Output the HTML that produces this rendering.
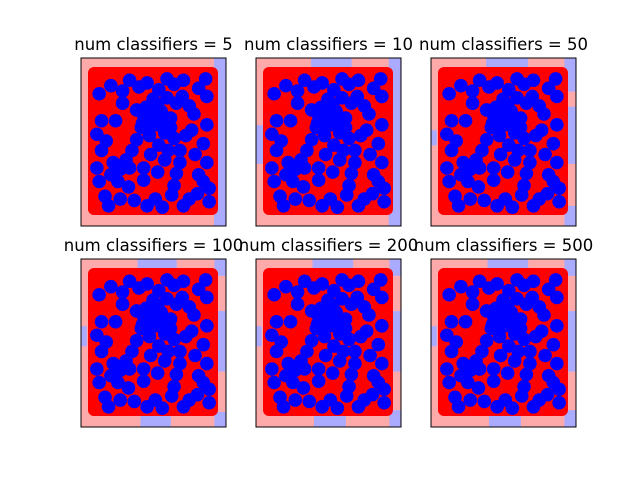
<!DOCTYPE html>
<html><head><meta charset="utf-8"><style>
body{margin:0;background:#fff;width:640px;height:480px;overflow:hidden}
svg{display:block;font-family:"DejaVu Sans","Liberation Sans",sans-serif}
</style></head><body>
<svg id="fig" width="640" height="480"></svg>
<script>
const titles = ["num classifiers = 5","num classifiers = 10","num classifiers = 50","num classifiers = 100","num classifiers = 200","num classifiers = 500"];
const blueX = [.14,.24,.45,.55,.68,.75,.95,.89,.50,.36,.42,.50,.57,.65,.41,.52,.60,.68,.55,.47,.36,.73,.63,.83,.96,.93,.78,.32,.16,.22,.14,.29,.42,.54,.42,.73,.70,.89,.96,.24,.04,.09,.22,.34,.52,.81,.88,.68,.06,.06,.18,.81,.96,.27,.60,.93,.04,.46,.57,.65,.50,.44,.30,.38,.62,.70,.85,.02,.02,.12,.45,.58,.76,.98,.98,.30,.48,.66,.10,.20,.86,.54,.40,.76,.62];
const blueY = [.91,.87,.93,.88,.92,.83,.96,.89,.81,.73,.69,.70,.72,.67,.63,.62,.56,.52,.47,.54,.51,.43,.43,.58,.62,.48,.54,.43,.34,.29,.25,.16,.21,.27,.30,.34,.26,.25,.34,.78,.20,.09,.07,.06,.07,.07,.11,.17,.43,.65,.65,.76,.83,.36,.36,.20,.85,.58,.64,.60,.66,.75,.95,.90,.96,.78,.70,.55,.30,.02,.02,.01,.02,.05,.15,.30,.40,.10,.50,.20,.40,.77,.60,.95,.82];
// decision-region blue patches per panel: [x0,x1,y0,y1] as axes fractions (y from top)
const regions = [
 [[.917,1,0,1]],
 [[.38,.66,0,.055],[.915,1,0,1],[0,.05,.40,.63]],
 [[.38,.67,0,.055],[.92,1,0,.2],[.92,1,.29,.63],[.92,1,.88,1],[0,.04,.43,.52]],
 [[.39,.66,0,.055],[.92,1,0,.1],[.92,1,.31,.67],[.92,1,.91,1],[0,.04,.40,.52],[.41,.62,.93,1]],
 [[.39,.67,0,.055],[.92,1,0,.1],[.92,1,.31,.67],[.92,1,.9,1],[0,.04,.40,.52],[.40,.62,.93,1]],
 [[.39,.67,0,.055],[.92,1,0,.1],[.92,1,.31,.67],[.92,1,.9,1],[0,.04,.40,.52],[.40,.62,.93,1]]
];
const NS="http://www.w3.org/2000/svg";
const svg=document.getElementById('fig');
function mk(t,a,p){const e=document.createElementNS(NS,t);for(const k in a)e.setAttribute(k,a[k]);p.appendChild(e);return e;}
const axX=[81,256,431], axY=[58,259], W=145, H=168;
titles.forEach((t,i)=>{
  const ax=axX[i%3], ay=axY[Math.floor(i/3)];
  const g=mk('g',{},svg);
  
  
  const bg=mk('rect',{x:ax,y:ay,width:W,height:H,fill:'#ffaaaa'},g);
  
  
  regions[i].forEach(r=>{
    const p=mk('rect',{x:ax+r[0]*W,y:ay+r[2]*H,width:(r[1]-r[0])*W,height:(r[3]-r[2])*H,fill:'#aaaaff'},g);
    
    
  });
  const px0=ax+7, py0=ay+9;
  const base=mk('rect',{x:px0,y:py0,width:130,height:148,rx:6,fill:'#ff0000'},g);
  
  
  const sx=u=>px0+6.5+u*117, sy=v=>py0+141.5-v*135;
  blueX.forEach((u,j)=>{
    const c=mk('circle',{cx:sx(u),cy:sy(blueY[j]),r:6.8,fill:'#0000ff'},g);
    
    
  });
  const fr=mk('rect',{x:ax,y:ay,width:W,height:H,fill:'none',stroke:'#000','stroke-width':1},g);
  
  
  const tt=mk('text',{x:ax+W/2,y:ay-8,'text-anchor':'middle','font-size':'16.5px',fill:'#000'},g);
  tt.textContent=t;
  
  
});
</script>
</body></html>
